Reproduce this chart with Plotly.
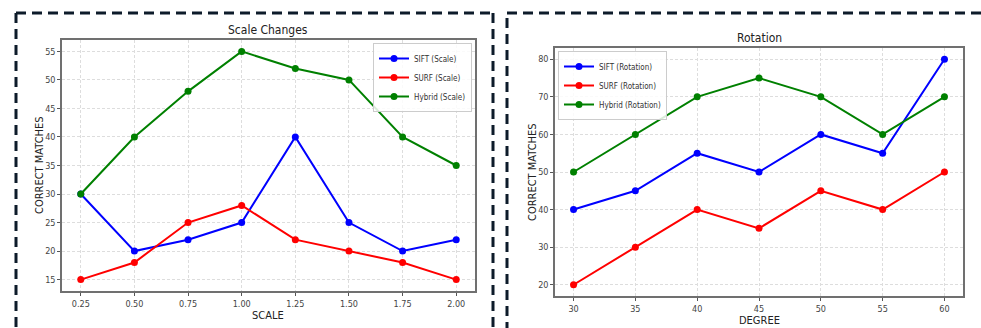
import plotly.graph_objects as go

# ---- data ----
scale_x = [0.25, 0.50, 0.75, 1.00, 1.25, 1.50, 1.75, 2.00]
scale_sift = [30, 20, 22, 25, 40, 25, 20, 22]
scale_surf = [15, 18, 25, 28, 22, 20, 18, 15]
scale_hybrid = [30, 40, 48, 55, 52, 50, 40, 35]

rot_x = [30, 35, 40, 45, 50, 55, 60]
rot_sift = [40, 45, 55, 50, 60, 55, 80]
rot_surf = [20, 30, 40, 35, 45, 40, 50]
rot_hybrid = [50, 60, 70, 75, 70, 60, 70]

scale_ticks = ["0.25", "0.50", "0.75", "1.00", "1.25", "1.50", "1.75", "2.00"]
scale_yticks = [15, 20, 25, 30, 35, 40, 45, 50, 55]
rot_yticks = [20, 30, 40, 50, 60, 70, 80]

W, H = 981, 328
FONT = "DejaVu Sans Condensed, Liberation Sans Narrow, DejaVu Sans"
COLORS = {"SIFT": "#0000ff", "SURF": "#ff0000", "Hybrid": "#008000"}

fig = go.Figure()

def add(x, y, name, color, xa, ya, legend):
    fig.add_trace(go.Scatter(
        x=x, y=y, name=name, mode="lines+markers",
        line=dict(color=color, width=2),
        marker=dict(color=color, size=7),
        xaxis=xa, yaxis=ya, legend=legend,
    ))

add(scale_x, scale_sift, "SIFT (Scale)", COLORS["SIFT"], "x", "y", "legend")
add(scale_x, scale_surf, "SURF (Scale)", COLORS["SURF"], "x", "y", "legend")
add(scale_x, scale_hybrid, "Hybrid (Scale)", COLORS["Hybrid"], "x", "y", "legend")
add(rot_x, rot_sift, "SIFT (Rotation)", COLORS["SIFT"], "x2", "y2", "legend2")
add(rot_x, rot_surf, "SURF (Rotation)", COLORS["SURF"], "x2", "y2", "legend2")
add(rot_x, rot_hybrid, "Hybrid (Rotation)", COLORS["Hybrid"], "x2", "y2", "legend2")

def px_x(p):
    return p / W

def px_y(p):
    return 1 - p / H

axis_common = dict(
    showline=True, mirror=True, linecolor="#707070", linewidth=1.5,
    showgrid=True, gridcolor="#dddddd", griddash="3px,2px", gridwidth=1,
    ticks="outside", ticklen=3, tickcolor="#555555", tickwidth=1,
    tickfont=dict(family=FONT, size=9, color="#444444"),
    zeroline=False,
)

smin, smax = min(scale_x), max(scale_x)
spad = (smax - smin) * 0.05
all_s = scale_sift + scale_surf + scale_hybrid
symin, symax = min(all_s), max(all_s)
sypad = (symax - symin) * 0.05
rmin, rmax = min(rot_x), max(rot_x)
rpad = (rmax - rmin) * 0.05
all_r = rot_sift + rot_surf + rot_hybrid
rymin, rymax = min(all_r), max(all_r)
rypad = (rymax - rymin) * 0.05

leg_common = dict(
    yanchor="top",
    bgcolor="rgba(255,255,255,0.85)", bordercolor="#cccccc", borderwidth=1,
    font=dict(family=FONT, size=8, color="#333333"),
    itemwidth=30, tracegroupgap=0,
)

fig.update_layout(
    width=W, height=H,
    margin=dict(l=0, r=0, t=0, b=0),
    paper_bgcolor="white", plot_bgcolor="white",
    font=dict(family=FONT, color="#333333"),
    showlegend=True,
    xaxis=dict(domain=[px_x(62), px_x(475)], anchor="y",
               range=[smin - spad, smax + spad],
               tickvals=scale_x, ticktext=scale_ticks, **axis_common),
    yaxis=dict(domain=[px_y(291), px_y(40)], anchor="x",
               range=[symin - sypad, symax + sypad],
               tickvals=scale_yticks, **axis_common),
    xaxis2=dict(domain=[px_x(555), px_x(963)], anchor="y2",
                range=[rmin - rpad, rmax + rpad],
                tickvals=rot_x, **axis_common),
    yaxis2=dict(domain=[px_y(296), px_y(48)], anchor="x2",
                range=[rymin - rypad, rymax + rypad],
                tickvals=rot_yticks, **axis_common),
    legend=dict(x=px_x(472), y=px_y(43), xanchor="right", **leg_common),
    legend2=dict(x=px_x(558), y=px_y(51), xanchor="left", **leg_common),
)

annos = [
    dict(text="Scale Changes", x=px_x(268), y=px_y(30), size=12),
    dict(text="Rotation", x=px_x(759), y=px_y(38), size=12),
    dict(text="SCALE", x=px_x(268), y=px_y(315), size=11),
    dict(text="DEGREE", x=px_x(759), y=px_y(320), size=11),
]
for a in annos:
    fig.add_annotation(text=a["text"], x=a["x"], y=a["y"], xref="paper", yref="paper",
                       xanchor="center", yanchor="middle", showarrow=False,
                       font=dict(family=FONT, size=a["size"], color="#222222"))
for xp, yp in [(39, 165), (532, 172)]:
    fig.add_annotation(text="CORRECT MATCHES", x=px_x(xp), y=px_y(yp), xref="paper", yref="paper",
                       xanchor="center", yanchor="middle", showarrow=False, textangle=-90,
                       font=dict(family=FONT, size=11, color="#222222"))

border = dict(color="#0d1b2a", width=3, dash="10px,6px")
segments = [
    (16, 13, 493, 13),
    (16, 13, 16, 340),
    (493, 13, 493, 340),
    (507, 13, 990, 13),
    (507, 18, 507, 340),
]
for x0, y0, x1, y1 in segments:
    fig.add_shape(type="line", xref="paper", yref="paper",
                  x0=px_x(x0), y0=px_y(y0), x1=px_x(x1), y1=px_y(y1), line=border)

fig.write_html("out.html", config={"displayModeBar": False},
               post_script="document.body.style.margin='0';document.body.style.overflow='hidden';")
